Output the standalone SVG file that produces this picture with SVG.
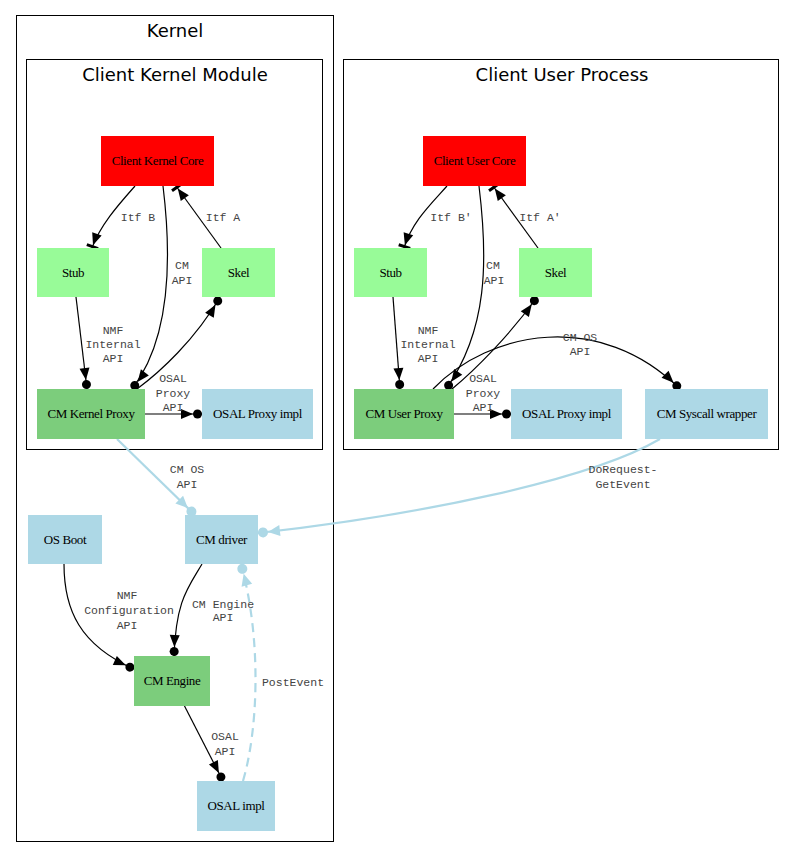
<svg xmlns="http://www.w3.org/2000/svg" width="795" height="868" viewBox="0 0 795 868">
<style>
.cl{fill:none;stroke:#000;stroke-width:1}
.ct{font-family:"DejaVu Sans",sans-serif;font-size:18px;text-anchor:middle;fill:#000}
.nl{font-family:"Liberation Serif",serif;font-size:13px;letter-spacing:-0.4px;text-anchor:middle;fill:#000}
.el{font-family:"Liberation Mono",monospace;font-size:11.5px;text-anchor:middle;fill:#444}
.red{fill:#ff0000}
.pg{fill:#98fb98}
.g3{fill:#7ccd7c}
.lb{fill:#add8e6}
.e{fill:none;stroke:#000;stroke-width:1.2}
.eb{fill:none;stroke:#add8e6;stroke-width:2.2}
</style>
<defs>
<marker id="dn" markerUnits="userSpaceOnUse" orient="auto" viewBox="-25 -10 30 20" refX="0" refY="0" markerWidth="30" markerHeight="20">
<circle cx="-4.5" cy="0" r="4.5" fill="#000"/><path d="M-9,0 L-21,-5 L-21,5 Z" fill="#000"/>
</marker>
<marker id="tn" markerUnits="userSpaceOnUse" orient="auto" viewBox="-25 -10 30 20" refX="0" refY="0" markerWidth="30" markerHeight="20">
<rect x="-3" y="-6" width="3" height="12" fill="#000"/><path d="M-3,0 L-15,-5 L-15,5 Z" fill="#000"/>
</marker>
<marker id="dnb" markerUnits="userSpaceOnUse" orient="auto" viewBox="-25 -10 30 20" refX="0" refY="0" markerWidth="30" markerHeight="20">
<circle cx="-5" cy="0" r="5" fill="#add8e6"/><path d="M-10,0 L-22,-5.5 L-22,5.5 Z" fill="#add8e6"/>
</marker>
</defs>
<rect width="795" height="868" fill="#fff"/>
<g id="cluster_kernel">
<rect class="cl" x="16.5" y="15.5" width="317" height="826"/>
<text class="ct" x="175" y="37">Kernel</text>
</g>
<g id="cluster_client_kernel_module">
<rect class="cl" x="26.5" y="59.5" width="296" height="390"/>
<text class="ct" x="175" y="80.5">Client Kernel Module</text>
</g>
<g id="cluster_client_user_process">
<rect class="cl" x="343.5" y="59.5" width="435" height="390"/>
<text class="ct" x="562" y="80.5">Client User Process</text>
</g>
<g id="connectors">
<path class="e" d="M135,186 C120,203 100,225 92,248" marker-end="url(#tn)"/>
<path class="e" d="M221,248 L176,186" marker-end="url(#tn)"/>
<path class="e" d="M163,186 C172,260 170,340 132,389" marker-end="url(#dn)"/>
<path class="e" d="M76,297 L87,389" marker-end="url(#dn)"/>
<path class="e" d="M137,389 C160,372 195,340 220,297" marker-end="url(#dn)"/>
<path class="e" d="M145,414 L202,414" marker-end="url(#dn)"/>
<path class="e" d="M447,186 C430,205 412,222 404,248" marker-end="url(#tn)"/>
<path class="e" d="M538,248 L493,186" marker-end="url(#tn)"/>
<path class="e" d="M479,186 C488,260 488,330 446,389" marker-end="url(#dn)"/>
<path class="e" d="M393,297 L400,389" marker-end="url(#dn)"/>
<path class="e" d="M452,389 C475,370 510,335 537,297" marker-end="url(#dn)"/>
<path class="e" d="M433,389 C490,330 600,310 680,389" marker-end="url(#dn)"/>
<path class="e" d="M454,414 L511,414" marker-end="url(#dn)"/>
<path class="eb" d="M117,439 L195,515" marker-end="url(#dnb)"/>
<path class="eb" d="M660,439 C590,480 420,515 258,533" marker-end="url(#dnb)"/>
<path class="e" d="M64,564 C64,610 80,645 134,669" marker-end="url(#dn)"/>
<path class="e" d="M202,564 C188,588 176,600 174,656" marker-end="url(#dn)"/>
<path class="e" d="M184,705 L223,781" marker-end="url(#dn)"/>
<path class="eb" d="M243,781 C258,730 262,640 241,564" stroke-dasharray="9,6" marker-end="url(#dnb)"/>
<text class="el" x="138" y="221">Itf B</text>
<text class="el" x="223" y="221">Itf A</text>
<text class="el" x="182" y="269">CM</text>
<text class="el" x="182" y="284">API</text>
<text class="el" x="113" y="334">NMF</text>
<text class="el" x="113" y="348">Internal</text>
<text class="el" x="113" y="362">API</text>
<text class="el" x="173" y="382">OSAL</text>
<text class="el" x="173" y="397">Proxy</text>
<text class="el" x="173" y="411">API</text>
<text class="el" x="451" y="221">Itf B'</text>
<text class="el" x="540" y="221">Itf A'</text>
<text class="el" x="493" y="269">CM</text>
<text class="el" x="494" y="284">API</text>
<text class="el" x="428" y="334">NMF</text>
<text class="el" x="428" y="348">Internal</text>
<text class="el" x="428" y="362">API</text>
<text class="el" x="580" y="341">CM OS</text>
<text class="el" x="580" y="355">API</text>
<text class="el" x="483" y="382">OSAL</text>
<text class="el" x="483" y="397">Proxy</text>
<text class="el" x="483" y="411">API</text>
<text class="el" x="187" y="473">CM OS</text>
<text class="el" x="187" y="488">API</text>
<text class="el" x="623" y="473">DoRequest-</text>
<text class="el" x="623" y="488">GetEvent</text>
<text class="el" x="127" y="599">NMF</text>
<text class="el" x="129" y="614">Configuration</text>
<text class="el" x="127" y="629">API</text>
<text class="el" x="223" y="608">CM Engine</text>
<text class="el" x="223" y="621">API</text>
<text class="el" x="225" y="740">OSAL</text>
<text class="el" x="225" y="755">API</text>
<text class="el" x="293" y="686">PostEvent</text>
</g>
<g id="client_kernel_core"><rect class="red" x="101" y="136" width="113" height="50"/><text class="nl" x="157.5" y="165">Client Kernel Core</text></g>
<g id="k_stub"><rect class="pg" x="37" y="248" width="72" height="49"/><text class="nl" x="73" y="277">Stub</text></g>
<g id="k_skel"><rect class="pg" x="202" y="248" width="73" height="49"/><text class="nl" x="238.5" y="277">Skel</text></g>
<g id="cm_kernel_proxy"><rect class="g3" x="37" y="389" width="108" height="50"/><text class="nl" x="91" y="418">CM Kernel Proxy</text></g>
<g id="k_osal_proxy_impl"><rect class="lb" x="202" y="389" width="111" height="50"/><text class="nl" x="257.5" y="418">OSAL Proxy impl</text></g>
<g id="client_user_core"><rect class="red" x="423" y="136" width="103" height="50"/><text class="nl" x="474.5" y="165">Client User Core</text></g>
<g id="u_stub"><rect class="pg" x="354" y="248" width="73" height="49"/><text class="nl" x="390.5" y="277">Stub</text></g>
<g id="u_skel"><rect class="pg" x="519" y="248" width="73" height="49"/><text class="nl" x="555.5" y="277">Skel</text></g>
<g id="cm_user_proxy"><rect class="g3" x="354" y="389" width="100" height="50"/><text class="nl" x="404" y="418">CM User Proxy</text></g>
<g id="u_osal_proxy_impl"><rect class="lb" x="511" y="389" width="111" height="50"/><text class="nl" x="566.5" y="418">OSAL Proxy impl</text></g>
<g id="cm_syscall_wrapper"><rect class="lb" x="645" y="389" width="123" height="50"/><text class="nl" x="706.5" y="418">CM Syscall wrapper</text></g>
<g id="os_boot"><rect class="lb" x="28" y="515" width="74" height="49"/><text class="nl" x="65" y="544">OS Boot</text></g>
<g id="cm_driver"><rect class="lb" x="185" y="515" width="73" height="49"/><text class="nl" x="221.5" y="544">CM driver</text></g>
<g id="cm_engine"><rect class="g3" x="134" y="656" width="76" height="50"/><text class="nl" x="172" y="685">CM Engine</text></g>
<g id="osal_impl"><rect class="lb" x="197" y="781" width="78" height="50"/><text class="nl" x="236" y="810">OSAL impl</text></g>
</svg>
